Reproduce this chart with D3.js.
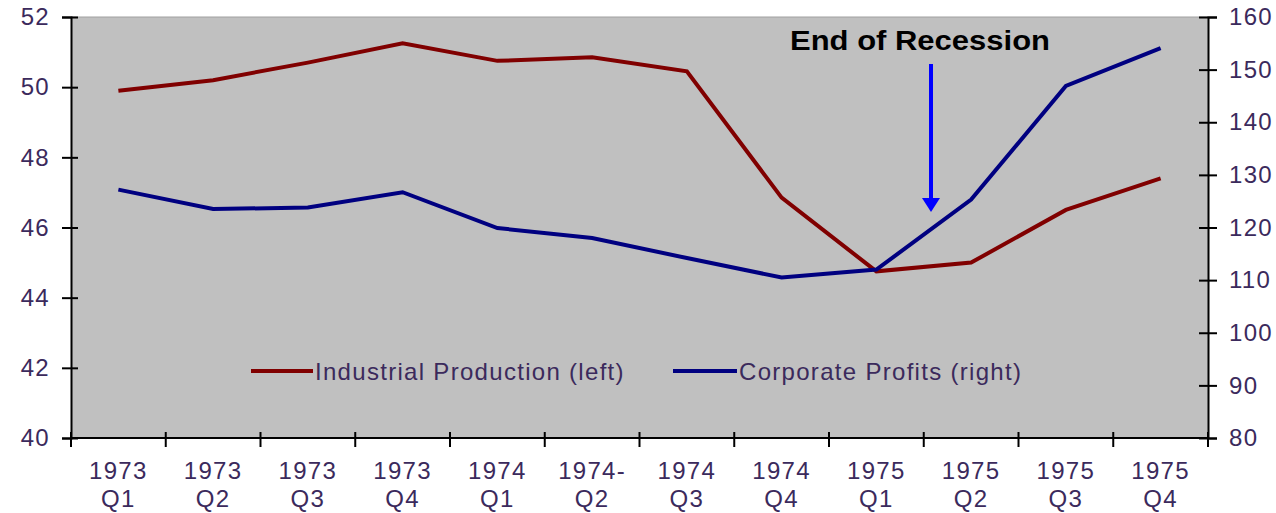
<!DOCTYPE html>
<html>
<head>
<meta charset="utf-8">
<script src="https://cdn.jsdelivr.net/npm/d3@7"></script>
<style>
  body { margin: 0; background: #fff; }
  text { font-family: "Liberation Sans", Arial, sans-serif; }
</style>
</head>
<body>
<div id="canvas"></div>
<script>
"use strict";

/* Data */
let years = ["1973", "1973", "1973", "1973", "1974", "1974-", "1974", "1974", "1975", "1975", "1975", "1975"];
let quarters = ["Q1", "Q2", "Q3", "Q4", "Q1", "Q2", "Q3", "Q4", "Q1", "Q2", "Q3", "Q4"];
let industrialProduction = [49.9, 50.2, 50.7, 51.25, 50.75, 50.85, 50.45, 46.85, 44.75, 45.0, 46.5, 47.4];
let corporateProfits = [127.2, 123.5, 123.8, 126.7, 119.9, 118.0, 114.2, 110.5, 112.0, 125.3, 146.9, 154.1];
let leftTicks = [40, 42, 44, 46, 48, 50, 52];
let rightTicks = [80, 90, 100, 110, 120, 130, 140, 150, 160];

/* SVG setup */
let svgWidth = 1276;
let svgHeight = 513;
let plotLeft = 71;
let plotRight = 1208;
let plotTop = 17;
let plotBottom = 438;
let textColor = "#3b2a5c";

let svg = d3.select("#canvas")
  .append("svg")
  .attr("width", svgWidth)
  .attr("height", svgHeight);

/* Scales */
let idx = d3.range(years.length);
let xScale = d3.scaleBand().domain(idx).range([plotLeft, plotRight]);
let yLeft = d3.scaleLinear().domain([40, 52]).range([plotBottom, plotTop]);
let yRight = d3.scaleLinear().domain([80, 160]).range([plotBottom, plotTop]);

/* Plot background */
svg.append("rect")
  .attr("x", plotLeft)
  .attr("y", plotTop)
  .attr("width", plotRight - plotLeft)
  .attr("height", plotBottom - plotTop)
  .attr("fill", "#c0c0c0");

svg.append("line")
  .attr("x1", plotLeft).attr("x2", plotRight)
  .attr("y1", plotTop).attr("y2", plotTop)
  .attr("stroke", "#a0a0a0");

/* Left axis */
let leftAxis = svg.append("g")
  .attr("transform", "translate(" + plotLeft + ",0)")
  .call(d3.axisLeft(yLeft).tickValues(leftTicks).tickSize(9).tickPadding(12));
leftAxis.selectAll(".tick line").attr("x1", 7).attr("stroke-width", 2);

/* Right axis */
let rightAxis = svg.append("g")
  .attr("transform", "translate(" + plotRight + ",0)")
  .call(d3.axisRight(yRight).tickValues(rightTicks).tickSize(9).tickPadding(12));
rightAxis.selectAll(".tick line").attr("x1", -9).attr("stroke-width", 2);

/* Bottom axis: ticks at category boundaries */
let bottomAxis = svg.append("g");
bottomAxis.append("line")
  .attr("x1", plotLeft).attr("x2", plotRight)
  .attr("y1", plotBottom).attr("y2", plotBottom)
  .attr("stroke", "#000").attr("stroke-width", 2);
for (let i = 0; i <= years.length; i++) {
  let x = i < years.length ? xScale(i) : plotRight;
  bottomAxis.append("line")
    .attr("x1", x).attr("x2", x)
    .attr("y1", plotBottom - 6).attr("y2", plotBottom + 9)
    .attr("stroke", "#000").attr("stroke-width", 2);
}
for (let i = 0; i < years.length; i++) {
  let cx = xScale(i) + xScale.bandwidth() / 2;
  bottomAxis.append("text")
    .attr("x", cx).attr("y", 479)
    .attr("text-anchor", "middle")
    .attr("fill", textColor)
    .style("font-size", "24px")
    .style("letter-spacing", "1.3px")
    .text(years[i]);
  bottomAxis.append("text")
    .attr("x", cx).attr("y", 507)
    .attr("text-anchor", "middle")
    .attr("fill", textColor)
    .style("font-size", "24px")
    .style("letter-spacing", "1.3px")
    .text(quarters[i]);
}

svg.selectAll(".domain").attr("stroke", "#000").attr("stroke-width", 2);
svg.selectAll(".tick text")
  .attr("fill", textColor)
  .style("font-size", "24px")
  .style("letter-spacing", "1.3px");

/* Lines */
let lineLeft = d3.line()
  .x(function (d, i) { return xScale(i) + xScale.bandwidth() / 2; })
  .y(function (d) { return yLeft(d); });
let lineRight = d3.line()
  .x(function (d, i) { return xScale(i) + xScale.bandwidth() / 2; })
  .y(function (d) { return yRight(d); });

svg.append("path")
  .datum(industrialProduction)
  .attr("d", lineLeft)
  .attr("fill", "none")
  .attr("stroke", "#800000")
  .attr("stroke-width", 4);

svg.append("path")
  .datum(corporateProfits)
  .attr("d", lineRight)
  .attr("fill", "none")
  .attr("stroke", "#000080")
  .attr("stroke-width", 4);

/* Legend */
let legendY = 371;
svg.append("line")
  .attr("x1", 251).attr("x2", 313)
  .attr("y1", legendY).attr("y2", legendY)
  .attr("stroke", "#800000").attr("stroke-width", 4);
svg.append("text")
  .attr("x", 315).attr("y", legendY + 9)
  .attr("fill", textColor)
  .style("font-size", "24px")
  .style("letter-spacing", "1.3px")
  .text("Industrial Production (left)");

svg.append("line")
  .attr("x1", 673).attr("x2", 737)
  .attr("y1", legendY).attr("y2", legendY)
  .attr("stroke", "#000080").attr("stroke-width", 4);
svg.append("text")
  .attr("x", 739).attr("y", legendY + 9)
  .attr("fill", textColor)
  .style("font-size", "24px")
  .style("letter-spacing", "1.3px")
  .text("Corporate Profits (right)");

/* Annotation */
let arrowX = 931;
svg.append("text")
  .attr("x", 920).attr("y", 50)
  .attr("text-anchor", "middle")
  .attr("fill", "#000")
  .attr("textLength", 260)
  .attr("lengthAdjust", "spacingAndGlyphs")
  .style("font-size", "27px")
  .style("font-weight", "bold")
  .text("End of Recession");

svg.append("line")
  .attr("x1", arrowX).attr("x2", arrowX)
  .attr("y1", 64).attr("y2", 200)
  .attr("stroke", "#0000ff").attr("stroke-width", 4);
svg.append("path")
  .attr("d", "M" + (arrowX - 9) + ",198 L" + (arrowX + 9) + ",198 L" + arrowX + ",212 Z")
  .attr("fill", "#0000ff");
</script>
</body>
</html>
